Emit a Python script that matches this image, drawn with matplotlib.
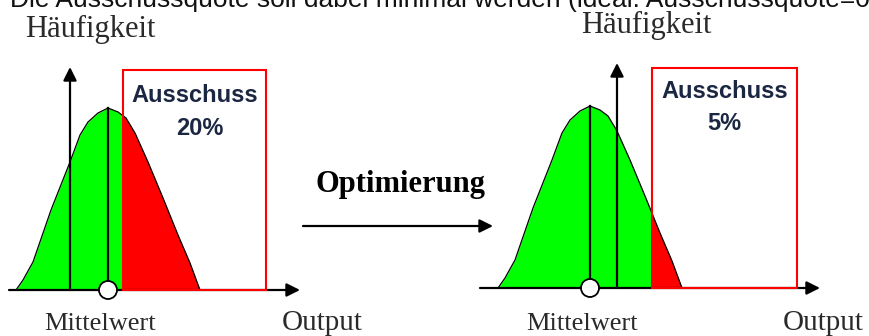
import numpy as np
import matplotlib
matplotlib.use("Agg")
import matplotlib.pyplot as plt
from matplotlib.patches import Circle, Rectangle

# --- diagram data (units: pixels of output / frequency, relative to each panel's axes) ---
HEADER = "Die Ausschussquote soll dabei minimal werden (ideal: Ausschussquote=0)."
Y_LABEL = "Häufigkeit"
X_LABEL = "Output"
MEAN_LABEL = "Mittelwert"
SCRAP_TITLE = "Ausschuss"
ARROW_LABEL = "Optimierung"

scrap_rates = ["20%", "5%"]
# distribution shape relative to the process mean
profile_offset = [-92, -85, -75, -57, -38, -28, -20, -10, 0, 10, 18, 27, 40, 55, 70, 82, 92]
profile_height = [0, 10, 28, 80, 128, 155, 168, 177, 182, 178, 172, 157, 128, 92, 55, 27, 0]
# positions relative to the frequency axis of each panel (before / after)
mean_pos = [38, -27]
spec_limit = [53, 35]
spec_box_end = [196, 180]
spec_box_height = [220, 220]
axis_x_range = [(-61, 230), (-137, 203)]
axis_y_top = [223, 225]

# layout: where each panel's origin sits in the figure (pixels)
panel_origin = [(70, 290), (617, 288)]
output_label_x = [322, 823]

GREEN = "#00ff00"
RED = "#ff0000"
INK = "#2a2a2a"
BLUE_TXT = "#1a2642"
SERIF = "Liberation Serif"
SANS = "Liberation Sans"

fig = plt.figure(figsize=(8.69, 3.36), dpi=100)
ax = fig.add_axes([0, 0, 1, 1])
ax.set_xlim(0, 869)
ax.set_ylim(336, 0)
ax.axis("off")

arrow_kw = dict(arrowstyle="-|>", mutation_scale=20, lw=1.6, color="black",
                shrinkA=0, shrinkB=0)

for i, (x0, base) in enumerate(panel_origin):
    m = x0 + mean_pos[i]
    spec = x0 + spec_limit[i]

    # curve, with the spec limit inserted so the fill splits exactly there
    cx = m + np.array(profile_offset, dtype=float)
    ch = np.array(profile_height, dtype=float)
    if cx[0] < spec < cx[-1]:
        k = np.searchsorted(cx, spec)
        cx = np.insert(cx, k, spec)
        ch = np.insert(ch, k, np.interp(spec, m + np.array(profile_offset), profile_height))
    cy = base - ch
    ax.fill_between(cx, base, cy, where=cx <= spec, color=GREEN, lw=0, zorder=1)
    ax.fill_between(cx, base, cy, where=cx >= spec, color=RED, lw=0, zorder=1)
    ax.plot(cx, cy, color="black", lw=0.9, zorder=3)

    # spec region box
    ax.add_patch(Rectangle((spec, base - spec_box_height[i]), x0 + spec_box_end[i] - spec,
                           spec_box_height[i], fill=False, ec=RED, lw=1.5, zorder=5))

    # mean line
    peak = base - np.interp(m, m + np.array(profile_offset), profile_height)
    ax.plot([m, m], [base, peak], color="black", lw=1.6, zorder=4)

    # axes with arrows
    xa, xb = axis_x_range[i]
    ax.annotate("", xy=(x0 + xb, base), xytext=(x0 + xa, base), arrowprops=arrow_kw, zorder=4)
    ax.annotate("", xy=(x0, base - axis_y_top[i]), xytext=(x0, base), arrowprops=arrow_kw, zorder=4)

    ax.add_patch(Circle((m, base), 9, fc="white", ec="black", lw=1.3, zorder=6))

    # texts
    box_mid = (spec + x0 + spec_box_end[i]) / 2
    ax.text(box_mid, base - spec_box_height[i] + 32 - 2 * i, SCRAP_TITLE, ha="center",
            va="baseline", fontsize=17, fontweight="bold", family=SANS, color=BLUE_TXT)
    ax.text(box_mid + 5 * (1 - i), base - spec_box_height[i] + 65 - 3 * i, scrap_rates[i],
            ha="center", va="baseline", fontsize=17, fontweight="bold", family=SANS, color=BLUE_TXT)
    ax.text(m - 8, 330, MEAN_LABEL, ha="center", va="baseline", fontsize=19,
            family=SERIF, color=INK)
    ax.text(output_label_x[i], 330, X_LABEL, ha="center", va="baseline", fontsize=21,
            family=SERIF, color=INK)
    ax.text(x0 + 20 + 9 * i, 37 - 4 * i, Y_LABEL, ha="center", va="baseline", fontsize=22,
            family=SERIF, color=INK)

# optimisation arrow between the panels
ax.text(400, 192, ARROW_LABEL, ha="center", va="baseline", fontsize=22,
        fontweight="bold", family=SERIF, color="black")
ax.annotate("", xy=(493, 226), xytext=(303, 226), arrowprops=arrow_kw)

# header line, cut off at the top edge as in the source image
ax.text(10, 7, HEADER, ha="left", va="baseline", fontsize=19, family=SANS,
        color="#111111")

fig.savefig("out.png", dpi=100)
